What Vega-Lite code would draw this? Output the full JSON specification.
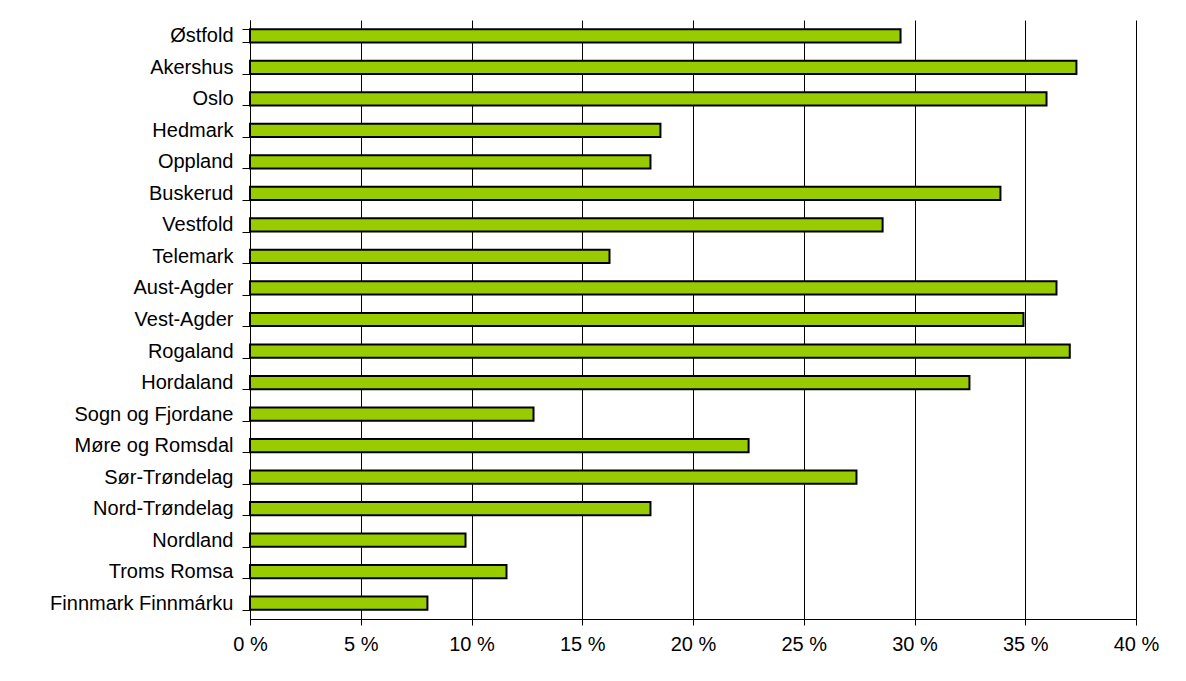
{
  "$schema": "https://vega.github.io/schema/vega-lite/v6.json",
  "width": 886,
  "height": 599,
  "autosize": {"type": "none"},
  "padding": {"left": 250, "top": 20, "right": 50, "bottom": 62},
  "background": "white",
  "config": {"view": {"stroke": null}, "font": "Liberation Sans"},
  "data": {"values": [
    {"fylke": "Østfold", "andel": 29.37},
    {"fylke": "Akershus", "andel": 37.31},
    {"fylke": "Oslo", "andel": 35.96},
    {"fylke": "Hedmark", "andel": 18.53},
    {"fylke": "Oppland", "andel": 18.08},
    {"fylke": "Buskerud", "andel": 33.88},
    {"fylke": "Vestfold", "andel": 28.56},
    {"fylke": "Telemark", "andel": 16.23},
    {"fylke": "Aust-Agder", "andel": 36.41},
    {"fylke": "Vest-Agder", "andel": 34.92},
    {"fylke": "Rogaland", "andel": 37.01},
    {"fylke": "Hordaland", "andel": 32.48},
    {"fylke": "Sogn og Fjordane", "andel": 12.80},
    {"fylke": "Møre og Romsdal", "andel": 22.51},
    {"fylke": "Sør-Trøndelag", "andel": 27.38},
    {"fylke": "Nord-Trøndelag", "andel": 18.08},
    {"fylke": "Nordland", "andel": 9.73},
    {"fylke": "Troms Romsa", "andel": 11.58},
    {"fylke": "Finnmark Finnmárku", "andel": 8.01}
  ]},
  "mark": {"type": "bar", "color": "#99CC00", "stroke": "black", "strokeWidth": 2},
  "encoding": {
    "y": {
      "field": "fylke", "type": "nominal", "sort": null,
      "scale": {"paddingInner": 0.58, "paddingOuter": 0.29},
      "axis": {
        "title": null, "domainColor": "black", "domainWidth": 1,
        "tickColor": "black", "tickSize": 8, "tickBand": "extent",
        "labelFontSize": 20, "labelColor": "black", "labelPadding": 9,
        "labelFont": "Liberation Sans", "labelLimit": 300
      }
    },
    "x": {
      "field": "andel", "type": "quantitative",
      "scale": {"domain": [0, 40], "nice": false},
      "axis": {
        "title": null, "values": [0, 5, 10, 15, 20, 25, 30, 35, 40],
        "labelExpr": "datum.value + ' %'",
        "grid": true, "gridColor": "black", "gridWidth": 1, "gridOpacity": 1,
        "domainColor": "black", "tickColor": "black", "tickSize": 6,
        "labelFontSize": 20, "labelColor": "black", "labelPadding": 9,
        "labelFont": "Liberation Sans", "labelFlush": false
      }
    }
  }
}
